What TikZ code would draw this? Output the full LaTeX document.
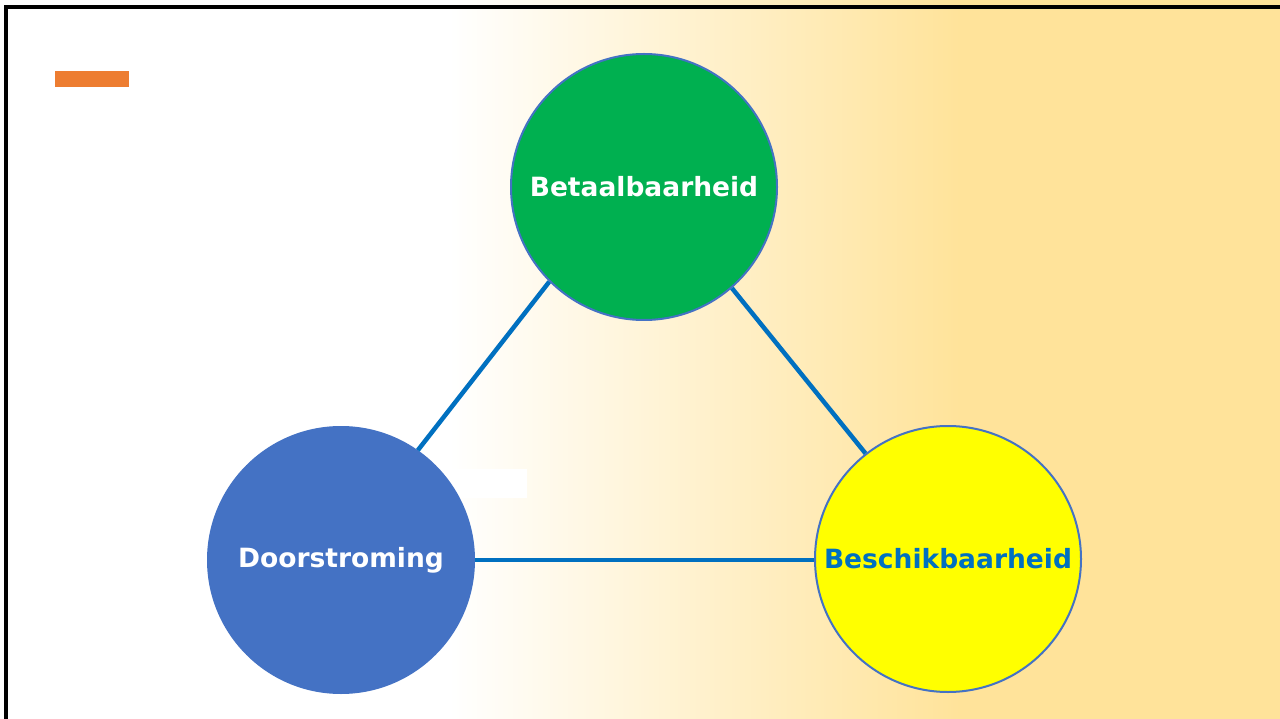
\documentclass[tikz,border=0pt]{standalone}
\usepackage{fontspec}
\setmainfont{DejaVu Sans}
\usetikzlibrary{positioning}

\definecolor{pijl}{HTML}{0070C0}
\definecolor{rand}{HTML}{4472C4}
\definecolor{groen}{HTML}{00B050}
\definecolor{geel}{HTML}{FFFF00}
\definecolor{zand}{HTML}{FFE39A}
\definecolor{oranje}{HTML}{ED7D31}

\tikzset{
  bol/.style={circle, draw=rand, line width=2pt, minimum size=266pt, inner sep=0pt,
              font=\fontsize{26.5}{30}\selectfont\bfseries},
  lijn/.style={pijl, line width=4.5pt}
}

\begin{document}
\begin{tikzpicture}[x=1pt, y=-1pt]

\useasboundingbox (0,0) rectangle (1280,719);
\fill[white] (0,0) rectangle (450,719);
\shade[left color=white, right color=zand] (449,0) rectangle (960,719);
\fill[zand] (959,0) rectangle (1280,719);
\draw[line width=3.5pt] (6,719) -- (6,7) -- (1280,7);

\fill[oranje] (55,71) rectangle (129,87);
\fill[white] (420,469) rectangle (527,498);

\node[bol, fill=groen, text=white] (betaal) at (644,187) {Betaalbaarheid};
\node[bol, fill=rand, text=white] (door) at (341,560) {Doorstroming};
\node[bol, fill=geel, text=pijl] (beschik) at (948,559) {Beschikbaarheid};

\draw[lijn] (betaal.225) -- (door.55);
\draw[lijn] (betaal.311) -- (beschik.128);
\draw[lijn] (door.east) -- (door.east -| beschik.west);

\end{tikzpicture}
\end{document}
